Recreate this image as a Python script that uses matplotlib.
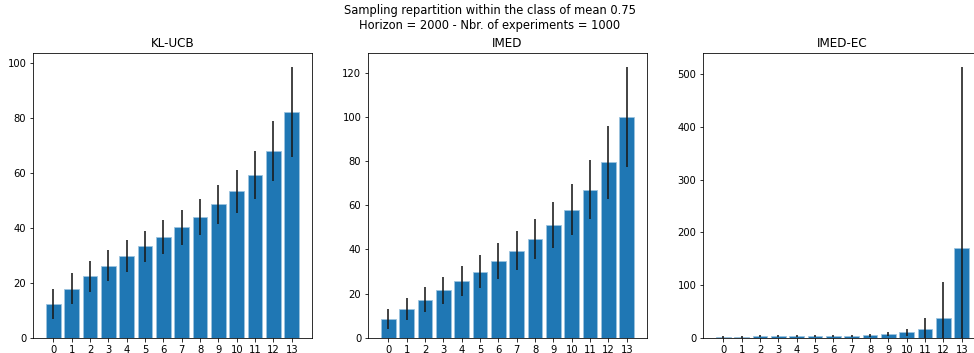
import numpy as np
import matplotlib
matplotlib.use("Agg")
import matplotlib.pyplot as plt

# arms of the class, sorted
arms = list(range(14))

kl_ucb_mean = [12.2, 17.9, 22.4, 26.3, 29.8, 33.3, 36.7, 40.2, 44.1, 48.6, 53.3, 59.4, 68.0, 82.3]
kl_ucb_std = [5.4, 5.7, 5.6, 5.7, 5.7, 5.7, 6.1, 6.5, 6.6, 7.2, 7.9, 8.7, 10.8, 16.4]

imed_mean = [8.3, 13.0, 17.3, 21.4, 25.6, 30.0, 34.7, 39.5, 44.9, 51.0, 58.1, 67.1, 79.5, 100.1]
imed_std = [4.5, 5.1, 5.7, 6.1, 6.9, 7.3, 8.1, 8.8, 9.0, 10.3, 11.4, 13.4, 16.6, 22.7]

imed_ec_mean = [1.3, 1.8, 2.5, 2.5, 2.5, 2.5, 2.5, 2.8, 4.4, 6.9, 10.1, 15.8, 37.8, 170.2]
imed_ec_std = [1.0, 1.5, 2.0, 2.0, 2.0, 2.0, 2.0, 2.0, 3.2, 3.2, 6.3, 22.0, 68.0, 344.0]

algos = {
    "KL-UCB": (kl_ucb_mean, kl_ucb_std),
    "IMED": (imed_mean, imed_std),
    "IMED-EC": (imed_ec_mean, imed_ec_std),
}

W, H = 974, 353
fig = plt.figure(figsize=(W / 72, H / 72), dpi=72)

lefts = [33.3, 368.3, 703.3]
ax_w = 278.5
bottom, top = 337.7, 53.3

for left, (name, (mean, std)) in zip(lefts, algos.items()):
    ax = fig.add_axes([left / W, (H - bottom) / H, ax_w / W, (bottom - top) / H])
    mean = np.array(mean)
    std = np.array(std)
    # lower error clipped at zero (counts cannot be negative)
    lower = np.minimum(std, mean)
    ax.bar(arms, mean, width=0.8, color="#1f77b4", edgecolor="#9cc3df",
           linewidth=0.8, yerr=[lower, std], ecolor="#1a1a1a",
           error_kw=dict(elinewidth=1.6))
    ax.set_xticks(arms)
    ax.set_title(name)

fig.suptitle("Sampling repartition within the class of mean 0.75\n"
             "Horizon = 2000 - Nbr. of experiments = 1000",
             x=0.503, y=1 - 4 / H, va="top", fontsize=11.5)

fig.savefig("out.png", dpi=72)
